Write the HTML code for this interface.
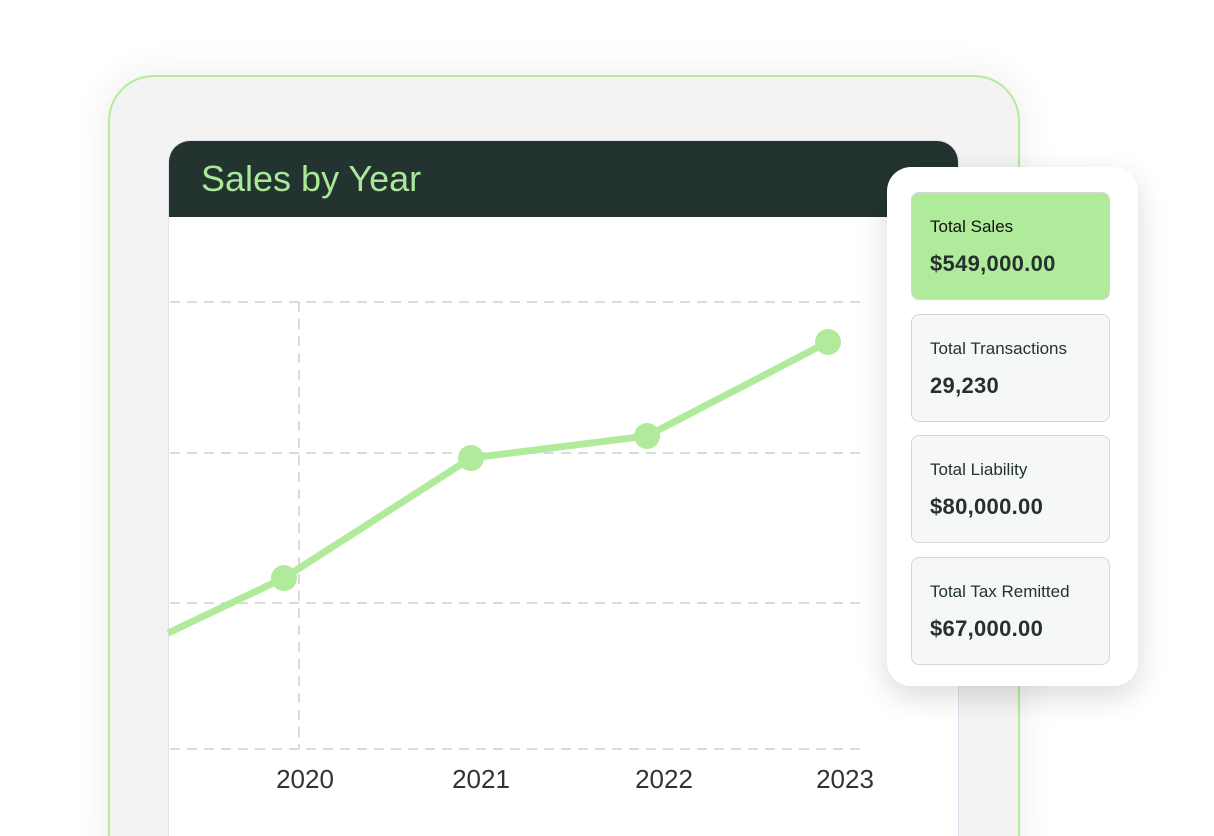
<!DOCTYPE html>
<html style="width:1214px;height:836px;overflow:hidden"><head><style>
body{margin:0;width:1214px;height:836px;overflow:hidden;background:#fff;font-family:"Liberation Sans",sans-serif;position:relative}
.outer{position:absolute;left:108px;top:75px;width:908px;height:780px;border:2px solid #b2ec9c;border-bottom:none;border-radius:46px 46px 0 0;background:#f3f3f3;box-shadow:0 0 40px rgba(0,0,0,0.08)}
.chart{position:absolute;left:168px;top:140px;width:789px;height:696px;background:#fff;border:1px solid #e2e0ef;border-bottom:none;border-radius:22px 22px 0 0;overflow:hidden}
.hdr{height:76px;background:#223330;color:#a9e897;font-size:36px;line-height:76px;padding-left:32px}
.panel{position:absolute;left:887px;top:167px;width:251px;height:519px;background:#fff;border-radius:24px;box-shadow:0 10px 30px rgba(0,0,0,0.15)}
.card{position:absolute;left:24px;width:197px;height:106px;border:1px solid #d6d6da;border-radius:8px;background:#f6f7f7;color:#223330}
.card .t{position:absolute;left:18px;top:24px;font-size:17px}
.card .v{position:absolute;left:18px;top:58px;font-size:22px;font-weight:bold;letter-spacing:0.3px;color:#26302e}
</style></head><body>
<div class="outer"></div>
<div class="chart"><div class="hdr">Sales by Year</div></div>
<svg style="position:absolute;left:0;top:0" width="1214" height="836">
<g stroke="#cfcfcf" stroke-width="1.5" stroke-dasharray="10,7" fill="none">
<line x1="170" y1="302" x2="865" y2="302"/>
<line x1="170" y1="453" x2="865" y2="453"/>
<line x1="170" y1="603" x2="865" y2="603"/>
<line x1="170" y1="749" x2="865" y2="749"/>
<line x1="299" y1="302" x2="299" y2="749"/>
</g>
<polyline points="168,633 284,578 471,458 647,436 828,342" fill="none" stroke="#b0eb9b" stroke-width="7" stroke-linejoin="round"/>
<g fill="#b0eb9b"><circle cx="284" cy="578" r="13"/><circle cx="471" cy="458" r="13"/><circle cx="647" cy="436" r="13"/><circle cx="828" cy="342" r="13"/></g>
<g font-family="Liberation Sans, sans-serif" font-size="26" fill="#333" text-anchor="middle">
<text x="305" y="788">2020</text><text x="481" y="788">2021</text><text x="664" y="788">2022</text><text x="845" y="788">2023</text>
</g>
</svg>
<div class="panel">
<div class="card" style="top:25px;background:#b0eb9b"><div class="t" style="color:#111">Total Sales</div><div class="v">$549,000.00</div></div>
<div class="card" style="top:147px"><div class="t">Total Transactions</div><div class="v">29,230</div></div>
<div class="card" style="top:268px"><div class="t">Total Liability</div><div class="v">$80,000.00</div></div>
<div class="card" style="top:390px"><div class="t">Total Tax Remitted</div><div class="v">$67,000.00</div></div>
</div>
</body></html>
